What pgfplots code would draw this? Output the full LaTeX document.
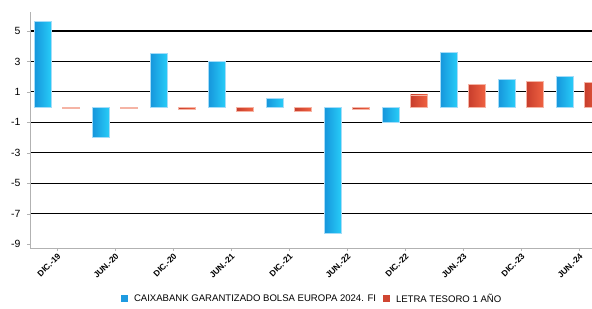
\documentclass[border=0pt]{standalone}
\usepackage{pgfplots}
\pgfplotsset{compat=1.18}
\usepackage{fontspec}
\setmainfont{Liberation Sans}
\definecolor{bluA}{RGB}{22,150,220}
\definecolor{bluB}{RGB}{40,205,248}
\definecolor{bluE}{RGB}{165,220,248}
\definecolor{redA}{RGB}{200,62,44}
\definecolor{redB}{RGB}{240,98,66}
\definecolor{redE}{RGB}{245,180,165}
\definecolor{legB}{RGB}{30,155,225}
\definecolor{legR}{RGB}{208,70,50}
\pgfplotsset{
  bbar/.style={ybar, bar width=17bp, bar shift=-14bp, left color=bluA, right color=bluB, draw=bluE, line width=0.8pt, forget plot},
  rbar/.style={ybar, bar width=17bp, bar shift=14bp, left color=redA, right color=redB, draw=redE, line width=0.6pt, forget plot},
}
\begin{document}
\begin{tikzpicture}
\useasboundingbox (-30bp,-61bp) rectangle (562bp,248bp);
\begin{axis}[
  scale only axis,
  width=562bp, height=236bp,
  xmin=-0.466, xmax=9.224,
  ymin=-9.25, ymax=6.25,
  axis lines*=left,
  axis line style={draw=gray!60, line width=0.8pt},
  xtick={0,...,9},
  xticklabels={DIC.-19,JUN.-20,DIC.-20,JUN.-21,DIC.-21,JUN.-22,DIC.-22,JUN.-23,DIC.-23,JUN.-24},
  xticklabel style={rotate=45, anchor=north east, font=\fontsize{8.4}{9}\selectfont\bfseries, inner sep=1pt},
  x tick style={draw=gray!60, line width=0.6pt},
  major tick length=3bp,
  tick align=outside,
  ytick={-7,-5,...,5},
  extra y ticks={-9},
  extra y tick style={grid=none},
  y tick style={draw=gray!60},
  yticklabel style={font=\fontsize{10.5}{12}\selectfont, xshift=-3bp},
  /pgf/number format/assume math mode=true,
  ymajorgrids,
  major grid style={draw=black, line width=1.1pt},
  clip=true,
  legend columns=2,
  legend style={at={(0.502,-0.216)}, anchor=center, draw=none, fill=none,
    font=\fontsize{9.6}{11}\selectfont, column sep=4bp,
    /tikz/every even column/.append style={column sep=5bp}},
  legend image code/.code={\fill[#1] (0bp,-3.5bp) rectangle (7bp,3.5bp);},
]
\addlegendimage{fill=legB, draw=none}
\addlegendentry{CAIXABANK GARANTIZADO BOLSA EUROPA 2024. FI}
\addlegendimage{fill=legR, draw=none}
\addlegendentry{LETRA TESORO 1 AÑO}
\addplot[bbar] coordinates {(0,5.6)};
\addplot[bbar] coordinates {(1,-2.0)};
\addplot[bbar] coordinates {(2,3.5)};
\addplot[bbar] coordinates {(3,3.0)};
\addplot[bbar] coordinates {(4,0.6)};
\addplot[bbar] coordinates {(5,-8.3)};
\addplot[bbar] coordinates {(6,-1.0)};
\addplot[bbar] coordinates {(7,3.6)};
\addplot[bbar] coordinates {(8,1.8)};
\addplot[bbar] coordinates {(9,2.0)};
\addplot[rbar] coordinates {(0,-0.08)};
\addplot[rbar] coordinates {(1,-0.08)};
\addplot[rbar] coordinates {(2,-0.12)};
\addplot[rbar] coordinates {(3,-0.3)};
\addplot[rbar] coordinates {(4,-0.3)};
\addplot[rbar] coordinates {(5,-0.12)};
\addplot[rbar] coordinates {(6,0.8)};
\addplot[rbar] coordinates {(7,1.5)};
\addplot[rbar] coordinates {(8,1.7)};
\addplot[rbar] coordinates {(9,1.6)};
\end{axis}
\end{tikzpicture}
\end{document}
